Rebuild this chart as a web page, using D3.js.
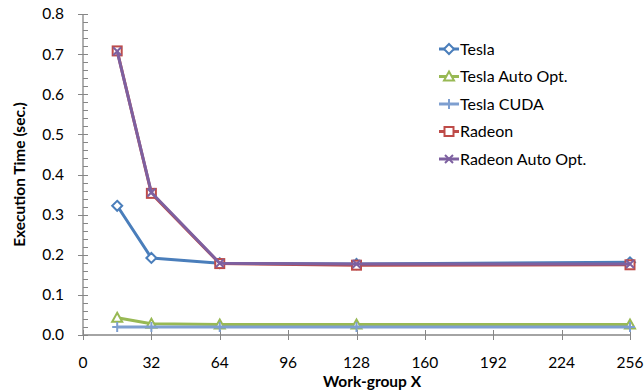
<!DOCTYPE html>
<html>
<head>
<meta charset="utf-8">
<script src="https://cdn.jsdelivr.net/npm/d3@7"></script>
<style>
  body { margin: 0; background: #fff; }
  svg text { font-family: Lato, "Open Sans", sans-serif; fill: #000; }
</style>
</head>
<body>
<div id="chart"></div>
<script>
// work-group sizes along x
var workGroupX = [16, 32, 64, 128, 256];

var tesla        = [0.322, 0.192, 0.179, 0.177, 0.181];
var teslaAuto    = [0.043, 0.028, 0.026, 0.026, 0.026];
var teslaCuda    = [0.020, 0.020, 0.020, 0.020, 0.020];
var radeon       = [0.708, 0.353, 0.178, 0.174, 0.175];
var radeonAuto   = [0.707, 0.355, 0.179, 0.177, 0.177];

var seriesNames  = ["Tesla", "Tesla Auto Opt.", "Tesla CUDA", "Radeon", "Radeon Auto Opt."];
var xTicks = [0, 32, 64, 96, 128, 160, 192, 224, 256];
var yTicks = [0, 0.1, 0.2, 0.3, 0.4, 0.5, 0.6, 0.7, 0.8];

var W = 644, H = 392;
var m = {left: 83, right: 14, top: 14, bottom: 57};

var svg = d3.select("#chart").append("svg")
  .attr("width", W).attr("height", H);

var x = d3.scaleLinear().domain([0, 256]).range([m.left, W - m.right]);
var y = d3.scaleLinear().domain([0, 0.8]).range([H - m.bottom, m.top]);

var axisColor = "#868686";

// y axis with minor ticks
var g = svg.append("g");
g.append("line")
  .attr("x1", x(0)).attr("x2", x(0))
  .attr("y1", y(0)).attr("y2", y(0.8))
  .attr("stroke", axisColor).attr("stroke-width", 1.3);
g.selectAll(".minor").data(d3.range(0, 0.8001, 0.02))
  .enter().append("line")
  .attr("x1", x(0)).attr("x2", x(0) + 5)
  .attr("y1", function(d) { return Math.round(y(d)) + 0.5; })
  .attr("y2", function(d) { return Math.round(y(d)) + 0.5; })
  .attr("stroke", axisColor);
g.selectAll(".major").data(yTicks)
  .enter().append("line")
  .attr("x1", x(0) - 5).attr("x2", x(0) + 5)
  .attr("y1", function(d) { return Math.round(y(d)) + 0.5; })
  .attr("y2", function(d) { return Math.round(y(d)) + 0.5; })
  .attr("stroke", axisColor);
g.selectAll(".ylab").data(yTicks)
  .enter().append("text")
  .attr("x", x(0) - 19).attr("y", function(d) { return y(d); })
  .attr("dy", "0.35em").attr("text-anchor", "end")
  .attr("font-size", 15.5)
  .text(function(d) { return d3.format(".1f")(d); });

// x axis
g.append("line")
  .attr("x1", x(0)).attr("x2", x(256))
  .attr("y1", y(0)).attr("y2", y(0))
  .attr("stroke", axisColor).attr("stroke-width", 1.3);
g.selectAll(".xt").data(xTicks)
  .enter().append("line")
  .attr("x1", function(d) { return Math.round(x(d)) + 0.5; })
  .attr("x2", function(d) { return Math.round(x(d)) + 0.5; })
  .attr("y1", y(0) - 5).attr("y2", y(0) + 5)
  .attr("stroke", axisColor);
g.selectAll(".xlab").data(xTicks)
  .enter().append("text")
  .attr("x", function(d) { return x(d); })
  .attr("y", y(0) + 28).attr("dy", "0.35em")
  .attr("text-anchor", "middle").attr("font-size", 15.5)
  .text(function(d) { return d; });

svg.append("text")
  .attr("x", 372).attr("y", 382).attr("dy", "0.35em")
  .attr("text-anchor", "middle").attr("font-size", 15.5).attr("font-weight", "bold")
  .text("Work-group X");
svg.append("text")
  .attr("transform", "translate(20," + (y(0.4)) + ") rotate(-90)")
  .attr("dy", "0.35em")
  .attr("text-anchor", "middle").attr("font-size", 15.5).attr("font-weight", "bold")
  .text("Execution Time (sec.)");

// series
var colors = ["#4a7ebb", "#98b954", "#7e9fd0", "#be4b48", "#7d60a0"];
var markers = ["diamond", "triangle", "plus", "square", "cross"];
var allSeries = [tesla, teslaAuto, teslaCuda, radeon, radeonAuto];

function drawMarker(sel, type, color, cx, cy) {
  var s = 5;
  if (type == "diamond") {
    sel.append("path")
      .attr("d", "M" + cx + "," + (cy - s) + "L" + (cx + s) + "," + cy + "L" + cx + "," + (cy + s) + "L" + (cx - s) + "," + cy + "Z")
      .attr("fill", "#fff").attr("stroke", color).attr("stroke-width", 2);
  } else if (type == "triangle") {
    sel.append("path")
      .attr("d", "M" + cx + "," + (cy - s) + "L" + (cx + s) + "," + (cy + 4) + "L" + (cx - s) + "," + (cy + 4) + "Z")
      .attr("fill", "#fff").attr("stroke", color).attr("stroke-width", 2);
  } else if (type == "square") {
    sel.append("rect")
      .attr("x", cx - 4.5).attr("y", cy - 4.5).attr("width", 9).attr("height", 9)
      .attr("fill", "#fff").attr("stroke", color).attr("stroke-width", 2);
  } else if (type == "plus") {
    sel.append("path")
      .attr("d", "M" + (cx - s) + "," + cy + "H" + (cx + s) + "M" + cx + "," + (cy - s) + "V" + (cy + s))
      .attr("stroke", color).attr("stroke-width", 2);
  } else if (type == "cross") {
    sel.append("path")
      .attr("d", "M" + (cx - 4) + "," + (cy - 4) + "L" + (cx + 4) + "," + (cy + 4) + "M" + (cx + 4) + "," + (cy - 4) + "L" + (cx - 4) + "," + (cy + 4))
      .attr("stroke", color).attr("stroke-width", 2);
  }
}

var line = d3.line()
  .x(function(d, i) { return x(workGroupX[i]); })
  .y(function(d) { return y(d); });

allSeries.forEach(function(vals, k) {
  var sg = svg.append("g");
  sg.append("path").datum(vals)
    .attr("d", line)
    .attr("fill", "none").attr("stroke", colors[k]).attr("stroke-width", 3)
    .attr("stroke-linejoin", "round");
  vals.forEach(function(v, i) {
    drawMarker(sg, markers[k], colors[k], x(workGroupX[i]), y(v));
  });
});

// legend
var leg = svg.append("g");
seriesNames.forEach(function(name, k) {
  var ly = 49 + k * 27.5;
  leg.append("line")
    .attr("x1", 439).attr("x2", 459).attr("y1", ly).attr("y2", ly)
    .attr("stroke", colors[k]).attr("stroke-width", 3);
  drawMarker(leg, markers[k], colors[k], 449, ly);
  leg.append("text")
    .attr("x", 460).attr("y", ly).attr("dy", "0.35em")
    .attr("font-size", 16)
    .text(name);
});
</script>
</body>
</html>
